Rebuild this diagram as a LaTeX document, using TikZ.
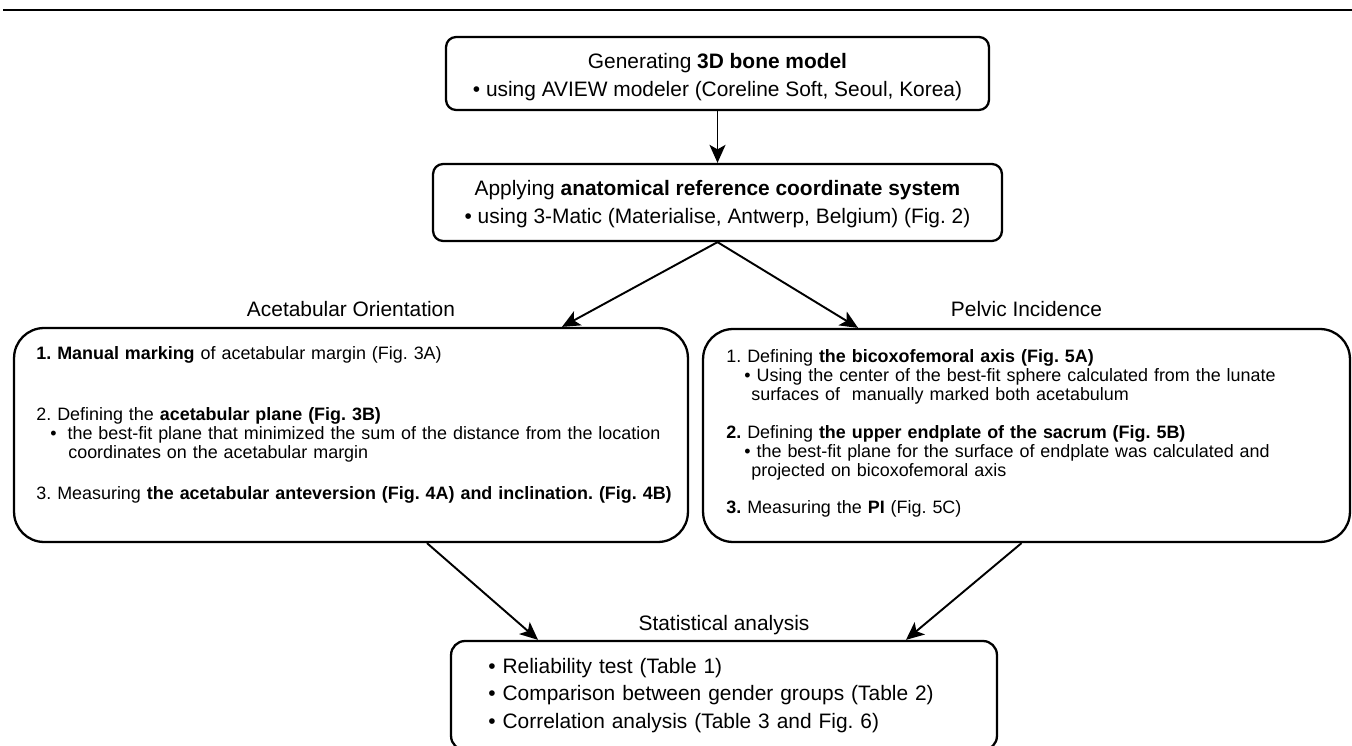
\documentclass[tikz,border=0pt]{standalone}
\usepackage{fontspec}
\setmainfont{Liberation Sans}
\usepackage{tikz}
\usetikzlibrary{arrows.meta}
\frenchspacing

\tikzset{
  stepbox/.style={draw,line width=1.3pt,rounded corners=0.2cm},
  bigbox/.style={draw,line width=1.3pt,rounded corners=0.6cm},
  flow/.style={line width=1.1pt,-{Stealth[length=0.36cm,width=0.32cm,inset=0.09cm]}},
  bigtext/.style={font=\fontsize{11.9}{15.6}\selectfont,inner sep=0pt},
  smalltext/.style={font=\fontsize{10.2}{10.8}\selectfont,inner sep=0pt,text width=14cm,align=left},
}

\begin{document}
\begin{tikzpicture}[x=0.02cm,y=-0.02cm]
  \useasboundingbox (0,0) rectangle (1352,746);
  \draw[line width=1.6pt] (3,10) -- (1352,10);

  % the five boxes
  \node[stepbox,minimum width=10.86cm,minimum height=1.46cm] (gen) at (717.5,73.5) {};
  \node[stepbox,minimum width=11.38cm,minimum height=1.54cm] (coord) at (717.5,202.5) {};
  \node[bigbox,minimum width=13.48cm,minimum height=4.28cm] (ao) at (351,435) {};
  \node[bigbox,minimum width=12.94cm,minimum height=4.26cm] (pi) at (1026.5,435.5) {};
  \node[stepbox,rounded corners=0.28cm,minimum width=10.92cm,minimum height=2.18cm] (stat) at (724,695.5) {};

  % texts
  \node[bigtext,align=center] (gentxt) at (717.5,77)
    {Generating \textbf{3D bone model}\\ • using AVIEW modeler (Coreline Soft, Seoul, Korea)};
  \node[bigtext,align=center] (coordtxt) at (717.5,204)
    {Applying \textbf{anatomical reference coordinate system}\\ • using 3-Matic (Materialise, Antwerp, Belgium) (Fig. 2)};
  \node[bigtext,anchor=base] (aotitle) at (351,317) {Acetabular Orientation};
  \node[bigtext,anchor=base] (pititle) at (1026.5,317) {Pelvic Incidence};
  \node[bigtext,anchor=base] (stattitle) at (724,630) {Statistical analysis};

  \node[smalltext,anchor=base west] (aotxt) at (36,359)
    {\textbf{1. Manual marking} of acetabular margin (Fig. 3A)\\[24.1pt]
     2. Defining the \textbf{acetabular plane (Fig. 3B)}\\
     \hspace*{0.28cm}•\hspace{0.22cm}the best-fit plane that minimized the sum of the distance from the location\\
     \hspace*{0.64cm}coordinates on the acetabular margin\\[12.8pt]
     3. Measuring \textbf{the acetabular anteversion (Fig. 4A) and inclination. (Fig. 4B)}};
  \node[smalltext,anchor=base west] (pitxt) at (726,363)
    {1. Defining \textbf{the bicoxofemoral axis (Fig. 5A)}\\
     \hspace*{0.36cm}•\hspace{0.12cm}Using the center of the best-fit sphere calculated from the lunate\\
     \hspace*{0.5cm}surfaces of \ manually marked both acetabulum\\[10.8pt]
     \textbf{2.} Defining \textbf{the upper endplate of the sacrum (Fig. 5B)}\\
     \hspace*{0.36cm}•\hspace{0.12cm}the best-fit plane for the surface of endplate was calculated and\\
     \hspace*{0.5cm}projected on bicoxofemoral axis\\[10.2pt]
     \textbf{3.} Measuring the \textbf{PI} (Fig. 5C)};
  \node[bigtext,anchor=base west,text width=10cm,align=left] (stattxt) at (488,673.5)
    {• Reliability test (Table 1)\\
     • Comparison between gender groups (Table 2)\\
     • Correlation analysis (Table 3 and Fig. 6)};

  % arrows
  \draw[flow] (gen.south) -- (coord.north);
  \draw[flow] (coord.south) -- ([xshift=4.22cm]ao.north);
  \draw[flow] (coord.south) -- ([xshift=-3.37cm]pi.north);
  \draw[flow] ([xshift=1.52cm]ao.south) -- ([xshift=-3.72cm]stat.north);
  \draw[flow] ([xshift=-0.1cm]pi.south) -- ([xshift=3.64cm]stat.north);
\end{tikzpicture}
\end{document}
